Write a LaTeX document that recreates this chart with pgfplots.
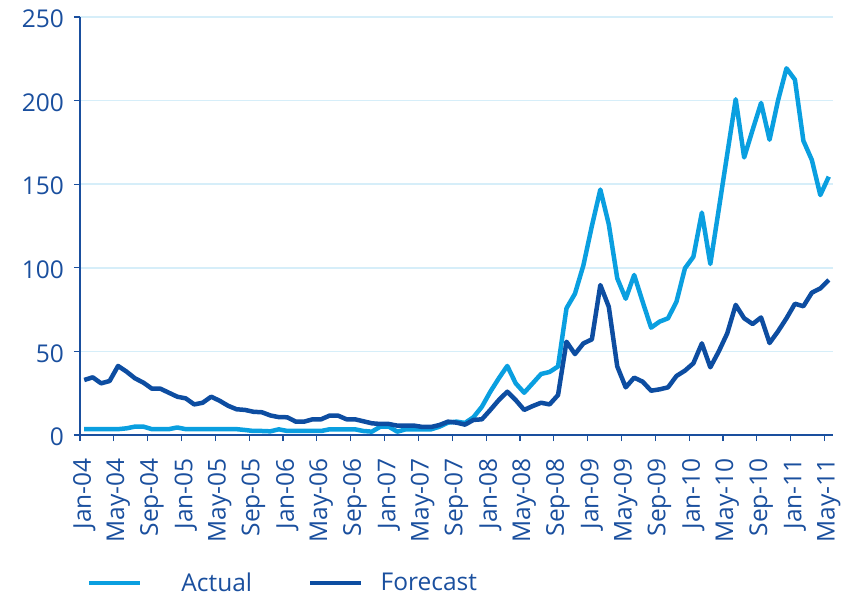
\documentclass[border=0pt]{standalone}
\usepackage{pgfplots}
\pgfplotsset{compat=1.18}
\usepackage{fontspec}
\setmainfont{Open Sans}
\definecolor{actualc}{HTML}{0A9FE0}
\definecolor{forec}{HTML}{0D4DA1}
\definecolor{txtc}{HTML}{1A4F9E}
\definecolor{gridc}{HTML}{D6EEF9}
\begin{document}
\begin{tikzpicture}
\begin{axis}[
  name=ax,
  scale only axis,
  width=753pt, height=418pt,
  xmin=-0.5, xmax=88.5,
  ymin=0, ymax=250,
  ytick={0,50,...,250},
  xtick={0,4,...,88},
  xticklabels={Jan-04,May-04,Sep-04,Jan-05,May-05,Sep-05,Jan-06,May-06,Sep-06,Jan-07,May-07,Sep-07,Jan-08,May-08,Sep-08,Jan-09,May-09,Sep-09,Jan-10,May-10,Sep-10,Jan-11,May-11},
  minor xtick={-0.5,3.5,...,87.5},
  major x tick style={draw=none},
  axis x line=bottom, axis y line=left,
  axis line style={-, draw=txtc, line width=1.2pt},
  tick style={draw=txtc, line width=1.2pt},
  tick align=outside,
  major tick length=6pt, minor tick length=6pt,
  ymajorgrids, grid style={draw=gridc, line width=1.5pt},
  /pgf/number format/assume math mode=true,
  ticklabel style={font=\fontsize{24.5}{28}\selectfont, text=txtc, inner sep=0pt},
  xticklabel style={rotate=90, anchor=east},
  xticklabel shift=17pt,
  yticklabel shift=10pt,
  yticklabel style={yshift=-2pt},
  legend columns=2,
  legend style={draw=none, fill=none, at={(0.005,-0.354)}, anchor=west,
    font=\fontsize{24.5}{28}\selectfont, text=txtc,
    nodes={inner xsep=0pt},
    /tikz/every even column/.append style={column sep=56pt}},
  legend image code/.code={\draw[#1, line width=4.5pt] (0pt,0pt) -- (51pt,0pt);},
]
\addplot[color=actualc, line width=4.5pt, line join=round] coordinates {
(0,3.5)(1,3.5)(2,3.5)(3,3.5)(4,3.5)(5,4)(6,5)(7,5)(8,3.5)(9,3.5)
(10,3.5)(11,4.5)(12,3.5)(13,3.5)(14,3.5)(15,3.5)(16,3.5)(17,3.5)(18,3.5)(19,3)
(20,2.4)(21,2.4)(22,2.2)(23,3.4)(24,2.4)(25,2.4)(26,2.4)(27,2.4)(28,2.4)(29,3.4)
(30,3.4)(31,3.4)(32,3.4)(33,2.4)(34,2)(35,5)(36,5)(37,2)(38,3.4)(39,3.4)
(40,3.4)(41,3.4)(42,5)(43,7.4)(44,8)(45,7.2)(46,10.6)(47,16.9)(48,25.9)(49,33.9)
(50,41.3)(51,30.9)(52,25.3)(53,30.9)(54,36.5)(55,37.7)(56,41)(57,75.8)(58,84.5)(59,101.5)
(60,125)(61,146.8)(62,126)(63,93.7)(64,81.5)(65,95.7)(66,79.7)(67,64.2)(68,67.8)(69,69.8)
(70,79.7)(71,99.7)(72,106.6)(73,133)(74,102.3)(75,135)(76,168)(77,200.8)(78,166)(79,182.5)
(80,198.6)(81,176.6)(82,200)(83,219.3)(84,212.5)(85,176)(86,164.5)(87,143.5)(88,154.5)
};
\addlegendentry{\hspace*{39pt}Actual}
\addplot[color=forec, line width=4.5pt, line join=round] coordinates {
(0,32.9)(1,34.5)(2,30.9)(3,32.3)(4,41.3)(5,37.9)(6,33.9)(7,31.3)(8,27.7)(9,27.7)
(10,25.3)(11,22.9)(12,21.9)(13,18.3)(14,19.3)(15,22.9)(16,20.5)(17,17.5)(18,15.4)(19,15)
(20,13.9)(21,13.6)(22,11.7)(23,10.7)(24,10.6)(25,8)(26,8)(27,9.4)(28,9.4)(29,11.6)
(30,11.6)(31,9.4)(32,9.4)(33,8.2)(34,7)(35,6.6)(36,6.6)(37,5.6)(38,5.6)(39,5.6)
(40,4.8)(41,4.8)(42,6)(43,8)(44,7.4)(45,6.2)(46,9)(47,9.4)(48,15)(49,20.9)
(50,25.9)(51,20.9)(52,15)(53,17.3)(54,19.3)(55,18.3)(56,23.9)(57,55.8)(58,48.4)(59,54.8)
(60,57.2)(61,89.7)(62,76.7)(63,41)(64,28.5)(65,34.3)(66,31.9)(67,26.5)(68,27.3)(69,28.5)
(70,35.3)(71,38.5)(72,42.9)(73,54.8)(74,40.5)(75,50)(76,60.8)(77,77.8)(78,69.8)(79,66.4)
(80,70.3)(81,55)(82,62)(83,69.8)(84,78.5)(85,77)(86,85.1)(87,87.7)(88,92.7)
};
\addlegendentry{\hspace*{17pt}Forecast}
\end{axis}
\path ([xshift=-80pt,yshift=-162pt]ax.south west) rectangle ([xshift=19pt,yshift=17pt]ax.north east);
\end{tikzpicture}
\end{document}
